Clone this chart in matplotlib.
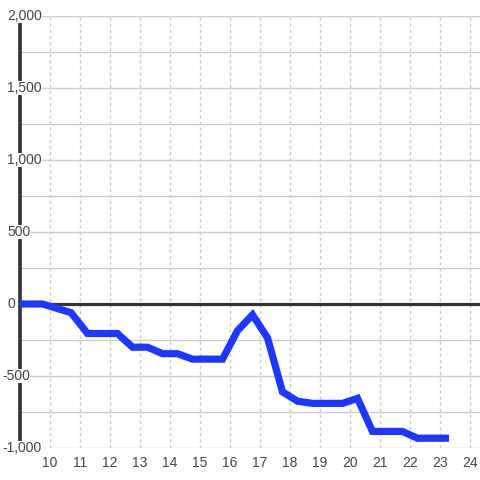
import numpy as np
import matplotlib
matplotlib.use('Agg')
import matplotlib.pyplot as plt
import matplotlib.transforms as mtransforms

plt.rcParams['font.family'] = ['Liberation Sans', 'DejaVu Sans']

# hour of day vs value
hours = [9.0, 9.75, 10.7, 11.25, 12.25, 12.75, 13.25, 13.75, 14.25, 14.75, 15.75,
         16.25, 16.75, 17.25, 17.75, 18.25, 18.75, 19.75, 20.25, 20.75, 21.75,
         22.25, 23.3]
values = [0, 0, -60, -205, -205, -300, -300, -345, -345, -383, -383,
          -185, -75, -235, -610, -675, -690, -690, -655, -885, -885,
          -932, -932]

xticks = list(range(10, 25))
yticks = list(range(-1000, 2001, 500))
ylabels = ['-1,000', '-500', '0', '500', '1,000', '1,500', '2,000']

fig = plt.figure(figsize=(4.8, 4.8), dpi=100)
ax = fig.add_axes([20/480, 1-448/480, 460/480, 432/480])

ax.set_xlim(9, 9 + 460/30)
ax.set_ylim(-1000, 2000)

# grid
for y in range(-1000, 2001, 250):
    ax.axhline(y, color='#cccccc', lw=1, zorder=1)
for x in xticks:
    ax.axvline(x, color='#c8c8c8', lw=1, ls=(0, (2.2, 2.2)), zorder=1)

ax.axhline(0, color='#333333', lw=2.3, zorder=2)

for s in ['top', 'right', 'bottom']:
    ax.spines[s].set_visible(False)
ax.spines['left'].set_color('#333333')
ax.spines['left'].set_linewidth(2.6)
ax.spines['left'].set_zorder(4)

ax.set_xticks(xticks)
ax.set_xticklabels([str(t) for t in xticks])
ax.set_yticks([])
ax.tick_params(axis='x', length=0, pad=6, labelsize=10, labelcolor='#444444')

# y labels: left aligned near the figure edge, with white box over the axis line
trans = mtransforms.blended_transform_factory(fig.transFigure, ax.transData)
for v, lab in zip(yticks, ylabels):
    x0 = 2/480 if v < 0 else 7/480
    ax.text(x0, v, lab, transform=trans, ha='left', va='center', fontsize=10,
            color='#444444', zorder=5, clip_on=False,
            bbox=dict(facecolor='white', edgecolor='none', pad=0.3))

ax.plot(hours, values, color='#1f38ff', lw=5.2, solid_joinstyle='miter',
        solid_capstyle='butt', zorder=6, clip_on=False)

fig.savefig('out.png', dpi=100)
